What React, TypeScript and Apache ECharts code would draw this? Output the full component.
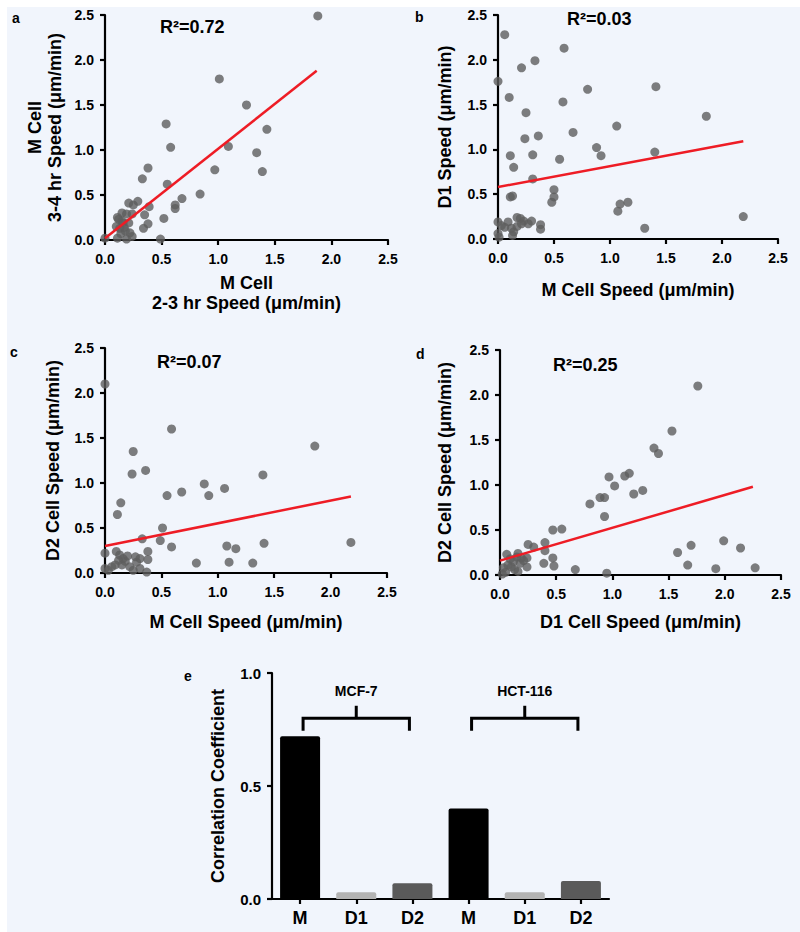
import React, { useEffect, useRef } from "react";
import * as echarts from "echarts";

const aPoints = [[1.88,2.49],[1.01,1.79],[1.25,1.50],[0.54,1.29],[1.43,1.23],[0.58,1.03],[1.09,1.04],[1.34,0.97],[1.39,0.76],[0.97,0.78],[0.38,0.80],[0.33,0.68],[0.55,0.62],[0.84,0.51],[0.68,0.46],[0.62,0.39],[0.62,0.35],[0.39,0.37],[0.29,0.43],[0.21,0.41],[0.25,0.39],[0.35,0.28],[0.38,0.18],[0.34,0.13],[0.52,0.24],[0.49,0.01],[0.00,0.02],[0.15,0.30],[0.19,0.29],[0.24,0.29],[0.12,0.23],[0.16,0.19],[0.21,0.19],[0.10,0.15],[0.13,0.13],[0.18,0.10],[0.14,0.07],[0.11,0.02],[0.19,0.01],[0.24,0.04],[0.11,0.25],[0.17,0.14],[0.22,0.08],[0.15,0.21]];
const bPoints = [[0.06,2.28],[0.59,2.13],[0.21,1.91],[0.33,1.99],[0.00,1.76],[0.10,1.58],[0.25,1.41],[0.58,1.53],[0.80,1.67],[1.41,1.70],[1.86,1.37],[1.06,1.26],[0.24,1.12],[0.36,1.15],[0.67,1.19],[0.88,1.02],[0.92,0.93],[1.40,0.97],[0.11,0.93],[0.31,0.94],[0.14,0.80],[0.55,0.89],[0.31,0.67],[0.11,0.47],[0.13,0.48],[0.50,0.55],[0.50,0.47],[0.48,0.41],[1.09,0.39],[1.16,0.41],[1.07,0.31],[1.31,0.12],[2.19,0.25],[0.00,0.19],[0.03,0.15],[0.09,0.19],[0.17,0.24],[0.20,0.23],[0.23,0.20],[0.27,0.17],[0.30,0.20],[0.38,0.16],[0.38,0.11],[0.12,0.12],[0.14,0.08],[0.13,0.04],[0.00,0.06],[0.01,0.02],[0.17,0.14],[0.21,0.17],[0.06,0.13]];
const cPoints = [[0.00,2.10],[0.59,1.60],[1.86,1.41],[0.25,1.35],[0.24,1.10],[0.36,1.14],[0.88,0.99],[0.55,0.86],[0.68,0.90],[0.92,0.86],[1.06,0.94],[1.40,1.09],[0.14,0.78],[0.11,0.65],[0.51,0.50],[0.33,0.38],[0.49,0.36],[0.59,0.29],[1.08,0.30],[1.16,0.27],[1.41,0.33],[2.18,0.34],[0.81,0.11],[1.10,0.12],[1.31,0.11],[0.00,0.22],[0.38,0.24],[0.38,0.15],[0.37,0.01],[0.10,0.24],[0.13,0.20],[0.16,0.16],[0.12,0.14],[0.27,0.18],[0.31,0.16],[0.06,0.07],[0.00,0.05],[0.22,0.07],[0.31,0.05],[0.03,0.03],[0.15,0.09],[0.25,0.03],[0.18,0.13],[0.28,0.12],[0.20,0.19],[0.09,0.09]];
const dPoints = [[1.76,2.10],[1.53,1.60],[1.37,1.41],[1.41,1.35],[1.15,1.13],[1.11,1.10],[0.97,1.09],[1.02,0.99],[1.19,0.90],[1.27,0.94],[0.89,0.86],[0.93,0.86],[0.80,0.79],[0.93,0.65],[0.55,0.51],[0.47,0.50],[0.40,0.36],[0.40,0.27],[0.30,0.31],[0.25,0.34],[0.47,0.19],[0.48,0.10],[0.39,0.13],[0.67,0.06],[0.95,0.02],[1.58,0.25],[1.70,0.33],[1.67,0.11],[1.99,0.38],[2.14,0.30],[1.92,0.07],[2.27,0.08],[0.06,0.23],[0.16,0.24],[0.15,0.20],[0.19,0.19],[0.24,0.19],[0.12,0.15],[0.18,0.13],[0.24,0.09],[0.07,0.11],[0.03,0.08],[0.13,0.06],[0.05,0.03],[0.16,0.04],[0.10,0.09],[0.21,0.16],[0.09,0.18],[0.02,0.01]];

const aFit = [[0, 0.02], [1.87, 1.88]];
const bFit = [[0, 0.58], [2.19, 1.09]];
const cFit = [[0, 0.30], [2.18, 0.85]];
const dFit = [[0, 0.16], [2.25, 0.98]];

const r2Labels = ["R\u00b2=0.72", "R\u00b2=0.03", "R\u00b2=0.07", "R\u00b2=0.25"];
const panelLetters = ["a", "b", "c", "d", "e"];

const barCategories = ["M", "D1", "D2", "M", "D1", "D2"];
const barValues = [0.72, 0.03, 0.07, 0.40, 0.03, 0.08];
const barColors = ["#000000", "#b3b3b3", "#5a5a5a", "#000000", "#b3b3b3", "#5a5a5a"];
const groupLabels = ["MCF-7", "HCT-116"];
const groupRanges = [[0, 2], [3, 5]];

const FONT = "'Liberation Sans', Arial, Helvetica, sans-serif";
const MU = "\u03bc";

export default function App() {
  const ref = useRef<HTMLDivElement>(null);
  useEffect(() => {
    if (!ref.current) return;
    const chart = echarts.init(ref.current, null, { renderer: "svg" });

    const grids = [
      { left: 105, top: 15, width: 283, height: 225 },
      { left: 498, top: 15, width: 280, height: 224 },
      { left: 105, top: 348, width: 282, height: 225 },
      { left: 500, top: 350, width: 281, height: 225 },
      { left: 272, top: 673, width: 337, height: 226 },
    ];

    const axisLine = { show: true, onZero: false, lineStyle: { color: "#000", width: 2.2 } };
    const axisTick = { show: true, length: 5, lineStyle: { color: "#000", width: 2.2 } };
    const nameStyle = { color: "#000", fontSize: 18, fontWeight: "bold", fontFamily: FONT, lineHeight: 20 };
    const labelStyle = (margin: number) => ({
      color: "#000", fontSize: 14, fontWeight: "bold", fontFamily: FONT, margin,
      formatter: (v: number) => v.toFixed(1),
    });

    const xNames = [
      "M Cell\n2-3 hr Speed (" + MU + "m/min)",
      "M Cell Speed (" + MU + "m/min)",
      "M Cell Speed (" + MU + "m/min)",
      "D1 Cell Speed (" + MU + "m/min)",
    ];
    const xGaps = [33, 41, 39, 37];
    const yNames = [
      "M Cell\n3-4 hr Speed (" + MU + "m/min)",
      "D1 Speed (" + MU + "m/min)",
      "D2 Cell Speed (" + MU + "m/min)",
      "D2 Cell Speed (" + MU + "m/min)",
    ];
    const yGaps = [40, 43, 42, 45];

    const xAxes: any[] = [0, 1, 2, 3].map((i) => ({
      type: "value", gridIndex: i, min: 0, max: 2.5, interval: 0.5,
      axisLine, axisTick, splitLine: { show: false },
      axisLabel: labelStyle(12),
      name: xNames[i], nameLocation: "middle", nameGap: xGaps[i], nameTextStyle: nameStyle,
    }));
    const yAxes: any[] = [0, 1, 2, 3].map((i) => ({
      type: "value", gridIndex: i, min: 0, max: 2.5, interval: 0.5,
      axisLine, axisTick, splitLine: { show: false },
      axisLabel: labelStyle(11),
      name: yNames[i], nameLocation: "middle", nameGap: yGaps[i], nameRotate: 90, nameTextStyle: nameStyle,
    }));
    xAxes.push({
      type: "category", gridIndex: 4, data: barCategories,
      axisLine, axisTick: { ...axisTick, alignWithLabel: true },
      axisLabel: { color: "#000", fontSize: 18, fontWeight: "bold", fontFamily: FONT, margin: 10 },
    });
    yAxes.push({
      type: "value", gridIndex: 4, min: 0, max: 1, interval: 0.5,
      axisLine, axisTick, splitLine: { show: false },
      axisLabel: { ...labelStyle(11), fontSize: 15 },
      name: "Correlation Coefficient", nameLocation: "middle", nameGap: 44, nameRotate: 90, nameTextStyle: nameStyle,
    });

    const pts = [aPoints, bPoints, cPoints, dPoints];
    const fits = [aFit, bFit, cFit, dFit];
    const series: any[] = [];
    pts.forEach((p, i) => {
      series.push({
        type: "scatter", xAxisIndex: i, yAxisIndex: i, data: p, symbolSize: 9, clip: false,
        itemStyle: { color: "#5e5e5e" }, z: 3,
      });
      series.push({
        type: "line", xAxisIndex: i, yAxisIndex: i, data: fits[i], symbol: "none",
        lineStyle: { color: "#ee1c25", width: 2.5 }, z: 4,
      });
    });
    series.push({
      type: "bar", xAxisIndex: 4, yAxisIndex: 4, barWidth: 40,
      data: barValues.map((v, i) => ({ value: v, itemStyle: { color: barColors[i], borderRadius: [2, 2, 0, 0] } })),
    });

    const baseGraphic = (): any[] => {
      const els: any[] = [];
      const letterPos = [[12, 18], [415, 17], [10, 352], [416, 354], [184, 676]];
      panelLetters.forEach((l, i) => {
        els.push({ type: "text", x: letterPos[i][0], y: letterPos[i][1], style: { text: l, fill: "#000", font: `bold 14px ${FONT}`, textVerticalAlign: "middle" } });
      });
      const r2Pos = [[160, 27], [567, 19], [157, 362], [553, 365]];
      r2Labels.forEach((t, i) => {
        els.push({ type: "text", x: r2Pos[i][0], y: r2Pos[i][1], style: { text: t, fill: "#000", font: `bold 18px ${FONT}`, textVerticalAlign: "middle" } });
      });
      return els;
    };

    chart.setOption({
      animation: false,
      backgroundColor: "transparent",
      grid: grids,
      xAxis: xAxes,
      yAxis: yAxes,
      series,
      graphic: { elements: baseGraphic() },
    });

    // brackets over bar groups, positioned through the axes
    const els = baseGraphic();
    groupRanges.forEach((r, gi) => {
      const x0 = (chart.convertToPixel({ xAxisIndex: 4 } as any, r[0]) as any) + 3;
      const x1 = (chart.convertToPixel({ xAxisIndex: 4 } as any, r[1]) as any) - 3;
      const yBar = chart.convertToPixel({ yAxisIndex: 4 } as any, 0.80) as any;
      const yEnd = chart.convertToPixel({ yAxisIndex: 4 } as any, 0.745) as any;
      const yTop = chart.convertToPixel({ yAxisIndex: 4 } as any, 0.855) as any;
      const yTxt = chart.convertToPixel({ yAxisIndex: 4 } as any, 0.92) as any;
      const xm = (x0 + x1) / 2;
      els.push({ type: "polyline", shape: { points: [[x0, yEnd], [x0, yBar], [x1, yBar], [x1, yEnd]] }, style: { stroke: "#000", lineWidth: 3, fill: null }, z: 10 });
      els.push({ type: "line", shape: { x1: xm, y1: yBar, x2: xm, y2: yTop }, style: { stroke: "#000", lineWidth: 3 }, z: 10 });
      els.push({ type: "text", x: xm, y: yTxt, style: { text: groupLabels[gi], fill: "#000", font: `bold 14px ${FONT}`, textAlign: "center", textVerticalAlign: "middle" }, z: 10 });
    });
    chart.setOption({ graphic: { elements: els } });

    return () => chart.dispose();
  }, []);
  return (
    <div
      ref={ref}
      style={{
        position: "absolute", left: 0, top: 0, width: 800, height: 932,
        background: "linear-gradient(#f1f5fc, #f1f5fc) 7px 7px / 793px 925px no-repeat, #ffffff",
      }}
    />
  );
}
